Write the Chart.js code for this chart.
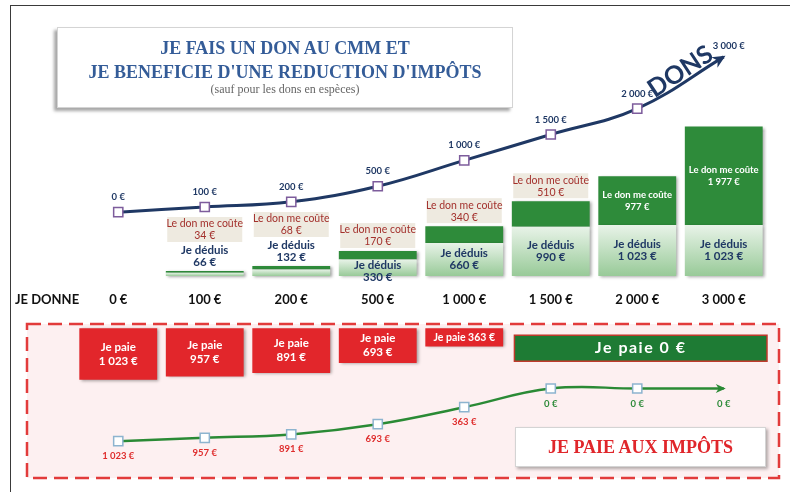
<!DOCTYPE html>
<html lang="fr">
<head>
<meta charset="utf-8">
<script src="https://cdn.jsdelivr.net/npm/chart.js@4"></script>
<style>
  html, body { margin: 0; padding: 0; background: #fff; }
  #wrap { position: relative; width: 790px; height: 492px; overflow: hidden; font-family: Lato, sans-serif; }
  #frame { position: absolute; left: 10px; top: 5px; width: 820px; height: 520px; border-top: 1.5px solid #3a3a3a; border-left: 1.5px solid #3a3a3a; z-index: 0; }
  canvas { position: absolute; left: 0; top: 0; z-index: 1; }
  .box { position: absolute; background: #fff; border: 1px solid #d4d4d4; z-index: 2; }
  #title { left: 57px; top: 27px; width: 454px; height: 79px; box-shadow: -3px 3px 3px rgba(0,0,0,.35); color: #345c98; font-family: "Liberation Serif", "Times New Roman", serif; }
  #title div { position: absolute; left: 0; width: 100%; text-align: center; line-height: 1; white-space: nowrap; }
  #t1, #t2 { font-size: 18px; font-weight: bold; }
  #t1 { top: 11px; } #t2 { top: 35px; }
  #t3 { top: 55px; font-size: 12px; color: #666; }
  #impots { left: 515px; top: 427px; width: 249px; height: 38px; box-shadow: 2px 2px 3px rgba(0,0,0,.3); display: flex; align-items: center; justify-content: center; color: #e0262b; font-family: "Liberation Serif", "Times New Roman", serif; font-weight: bold; font-size: 18px; }
</style>
</head>
<body>
<div id="wrap">
  <div id="frame"></div>
  <canvas id="c" width="790" height="492"></canvas>
  <div id="title" class="box">
    <div id="t1">JE FAIS UN DON AU CMM ET</div>
    <div id="t2">JE BENEFICIE D'UNE REDUCTION D'IMPÔTS</div>
    <div id="t3">(sauf pour les dons en espèces)</div>
  </div>
  <div id="impots" class="box">JE PAIE AUX IMPÔTS</div>
</div>
<script>
// ---- data ----
const categories = ['0 €', '100 €', '200 €', '500 €', '1 000 €', '1 500 €', '2 000 €', '3 000 €'];
const donations  = [0, 100, 200, 500, 1000, 1500, 2000, 3000];
const deductions = [0, 66, 132, 330, 660, 990, 1023, 1023];
const costs      = [0, 34, 68, 170, 340, 510, 977, 1977];
const taxPaid    = [1023, 957, 891, 693, 363, 0, 0, 0];
const rowTitle   = 'JE DONNE';
const arrowWord  = 'DONS';

const fmt = v => String(v).replace(/\B(?=(\d{3})+(?!\d))/g, ' ') + ' €';
const NAVY = '#1f3864';

function txt(c, s, x, y, font, color, align) {
  c.font = font; c.fillStyle = color; c.textAlign = align || 'center'; c.textBaseline = 'middle';
  c.fillText(s, x, y);
}
const F = (w, s) => w + ' ' + s + 'px Lato, sans-serif';

const deco = {
  id: 'deco',
  beforeDatasetsDraw(chart) {
    const c = chart.ctx;
    c.save();
    c.fillStyle = '#fdf0f1';
    c.fillRect(27, 324, 752, 154);
    c.setLineDash([14, 7]);
    c.lineWidth = 2.5;
    c.strokeStyle = '#e23b3b';
    c.strokeRect(27, 324, 752, 154);
    c.restore();
  },
  beforeDatasetDraw(chart, args) {
    if (args.meta.type === 'bar') {
      const c = chart.ctx; c.save();
      c.shadowColor = 'rgba(0,0,0,0.35)'; c.shadowBlur = 3; c.shadowOffsetX = 2; c.shadowOffsetY = 1;
    }
  },
  afterDatasetDraw(chart, args) {
    if (args.meta.type === 'bar') chart.ctx.restore();
  },
  afterDatasetsDraw(chart) {
    const c = chart.ctx;
    const xs = chart.scales.x, yD = chart.scales.yDon, yB = chart.scales.yBar, yP = chart.scales.yPay, yT = chart.scales.yTax;
    const slot = xs.getPixelForValue(1) - xs.getPixelForValue(0);
    c.save();

    // JE DONNE row
    txt(c, rowTitle, 15, 300, F('bold', 13), '#111', 'left');
    categories.forEach((s, i) => txt(c, s, xs.getPixelForValue(i), 300, F('bold', 13), '#111'));

    // donation line labels
    donations.forEach((v, i) => {
      const last = i === donations.length - 1;
      const x = xs.getPixelForValue(i) + (last ? 5 : 0);
      const y = yD.getPixelForValue(v) - (last ? 11 : 15);
      txt(c, categories[i], x, y, F('bold', 9.5), NAVY);
    });

    // stacked bar labels
    deductions.forEach((d, i) => {
      if (d + costs[i] <= 0) return;
      const cx = xs.getPixelForValue(i);
      const base = yB.getPixelForValue(0), mid = yB.getPixelForValue(d), top = yB.getPixelForValue(d + costs[i]);
      const dh = base - mid, ch = mid - top;
      let dedTop;
      if (dh > 12) {
        const y1 = Math.max((base + mid) / 2 - 6, mid + 6);
        txt(c, 'Je déduis', cx, y1, F('bold', 11.5), NAVY);
        txt(c, fmt(d), cx, y1 + 12, F('bold', 11.5), NAVY);
        dedTop = mid;
      } else {
        const y1 = top - 21;
        txt(c, 'Je déduis', cx, y1, F('bold', 11.5), NAVY);
        txt(c, fmt(d), cx, y1 + 12, F('bold', 11.5), NAVY);
        dedTop = y1 - 5;
      }
      if (ch > 40) {
        const cm = (mid + top) / 2;
        txt(c, 'Le don me coûte', cx, cm - 6, F('bold', 9.5), '#fff');
        txt(c, fmt(costs[i]), cx, cm + 6, F('bold', 9.5), '#fff');
      } else {
        const bb = Math.min(top, dedTop) - 3;
        c.fillStyle = '#eeeae0';
        c.fillRect(cx - 37.5, bb - 25, 75, 25);
        txt(c, 'Le don me coûte', cx, bb - 18, F('normal', 10.5), '#a3302c');
        txt(c, fmt(costs[i]), cx, bb - 6, F('normal', 10.5), '#a3302c');
      }
    });

    // tax paid bars labels
    const p0 = yP.getPixelForValue(0);
    taxPaid.forEach((t, i) => {
      if (t <= 0) return;
      const cx = xs.getPixelForValue(i);
      const p1 = yP.getPixelForValue(t);
      const cy = (p0 + p1) / 2;
      if (p1 - p0 >= 30) {
        txt(c, 'Je paie', cx, cy - 7, F('bold', 11.5), '#fff');
        txt(c, fmt(t), cx, cy + 7, F('bold', 11.5), '#fff');
      } else {
        txt(c, 'Je paie ' + fmt(t), cx, cy, F('bold', 10.5), '#fff');
      }
    });

    // zero-tax banner
    const first = taxPaid.indexOf(0);
    if (first >= 0) {
      const l = xs.getPixelForValue(first) - slot * 0.42;
      const r = xs.getPixelForValue(taxPaid.length - 1) + slot * 0.5;
      const t = p0 + 7, b = p0 + 33;
      c.fillStyle = '#1e7b34';
      c.fillRect(l, t, r - l, b - t);
      c.lineWidth = 1.5; c.strokeStyle = '#c0392b';
      c.strokeRect(l, t, r - l, b - t);
      c.letterSpacing = '1.5px';
      txt(c, 'Je paie ' + fmt(0), (l + r) / 2, (t + b) / 2, F('bold', 16), '#fff');
      c.letterSpacing = '0px';
    }

    // tax line labels
    taxPaid.forEach((t, i) => {
      const x = xs.getPixelForValue(i), y = yT.getPixelForValue(t) + 15;
      txt(c, fmt(t), x, y, F('bold', 9.5), t > 0 ? '#df2c2c' : '#2e8b3a');
    });

    // arrow heads
    [[3, NAVY, 13, 6], [4, '#2a8a35', 10, 4.5]].forEach(([di, col, len, hw]) => {
      const pts = chart.getDatasetMeta(di).data;
      const p = pts[pts.length - 1], q = pts[pts.length - 2];
      let dx = p.x - p.cp1x, dy = p.y - p.cp1y;
      if (!isFinite(dx) || !isFinite(dy) || (dx === 0 && dy === 0)) { dx = p.x - q.x; dy = p.y - q.y; }
      const L = Math.hypot(dx, dy), ux = dx / L, uy = dy / L;
      const tx = p.x + ux * 2, ty = p.y + uy * 2;
      c.beginPath();
      c.moveTo(tx, ty);
      c.lineTo(tx - ux * len - uy * hw, ty - uy * len + ux * hw);
      c.lineTo(tx - ux * len * 0.7, ty - uy * len * 0.7);
      c.lineTo(tx - ux * len + uy * hw, ty - uy * len - ux * hw);
      c.closePath();
      c.fillStyle = col; c.fill();
    });

    // DONS word along the last segment
    const dp = chart.getDatasetMeta(3).data;
    const a = dp[dp.length - 2], b = dp[dp.length - 1];
    const P = [[a.x, a.y], [a.cp2x, a.cp2y], [b.cp1x, b.cp1y], [b.x, b.y]];
    const tt = 0.57, mt = 1 - tt;
    const bx = mt*mt*mt*P[0][0] + 3*mt*mt*tt*P[1][0] + 3*mt*tt*tt*P[2][0] + tt*tt*tt*P[3][0];
    const by = mt*mt*mt*P[0][1] + 3*mt*mt*tt*P[1][1] + 3*mt*tt*tt*P[2][1] + tt*tt*tt*P[3][1];
    const ddx = 3*mt*mt*(P[1][0]-P[0][0]) + 6*mt*tt*(P[2][0]-P[1][0]) + 3*tt*tt*(P[3][0]-P[2][0]);
    const ddy = 3*mt*mt*(P[1][1]-P[0][1]) + 6*mt*tt*(P[2][1]-P[1][1]) + 3*tt*tt*(P[3][1]-P[2][1]);
    c.translate(bx, by);
    c.rotate(Math.atan2(ddy, ddx));
    c.font = F('bold', 25); c.fillStyle = NAVY; c.textAlign = 'center'; c.textBaseline = 'alphabetic';
    c.fillText(arrowWord, 0, -3);
    c.restore();
  }
};

function dedGradient(ctx) {
  const chart = ctx.chart;
  if (!chart.chartArea || ctx.type !== 'data') return '#c8e4c8';
  const y = chart.scales.yBar;
  const top = y.getPixelForValue(ctx.raw), base = y.getPixelForValue(0);
  if (!(base - top > 0.5)) return '#a8d4a8';
  const g = chart.ctx.createLinearGradient(0, top, 0, base);
  g.addColorStop(0, '#e8f3e8');
  g.addColorStop(1, '#98ca98');
  return g;
}

new Chart(document.getElementById('c'), {
  type: 'bar',
  data: {
    labels: categories,
    datasets: [
      { type: 'bar', label: 'Je déduis', data: deductions, yAxisID: 'yBar', stack: 'col', order: 1,
        backgroundColor: dedGradient, barPercentage: 0.9, categoryPercentage: 1 },
      { type: 'bar', label: 'Le don me coûte', data: costs, yAxisID: 'yBar', stack: 'col', order: 1,
        backgroundColor: '#2e8b3a', barPercentage: 0.9, categoryPercentage: 1 },
      { type: 'bar', label: 'Je paie', data: taxPaid, yAxisID: 'yPay', stack: 'col', order: 1,
        backgroundColor: '#e2262b', barPercentage: 0.9, categoryPercentage: 1 },
      { type: 'line', label: 'Dons', data: donations, yAxisID: 'yDon', order: 0,
        borderColor: NAVY, borderWidth: 3, tension: 0.4, fill: false, clip: false,
        pointStyle: 'rect', pointRadius: ctx => ctx.dataIndex === donations.length - 1 ? 0 : 6.5,
        pointBackgroundColor: '#fff', pointBorderColor: '#7d5c9c', pointBorderWidth: 1.5 },
      { type: 'line', label: 'Impôts', data: taxPaid, yAxisID: 'yTax', order: 0,
        borderColor: '#2a8a35', borderWidth: 2.5, tension: 0.4, fill: false, clip: false,
        pointStyle: 'rect', pointRadius: ctx => ctx.dataIndex === taxPaid.length - 1 ? 0 : 6.5,
        pointBackgroundColor: '#fff', pointBorderColor: '#8db4cf', pointBorderWidth: 1.5 }
    ]
  },
  options: {
    responsive: false,
    animation: false,
    devicePixelRatio: 1,
    layout: { padding: { left: 75, right: 23, top: 0, bottom: 0 } },
    plugins: { legend: { display: false }, tooltip: { enabled: false } },
    scales: {
      x: { type: 'category', display: false, offset: true },
      yDon: { display: false, min: -5252, max: 3944 },
      yBar: { display: false, stacked: true, min: -4175, max: 5379 },
      yPay: { display: false, reverse: true, min: -6365, max: 3096 },
      yTax: { display: false, reverse: true, min: -7393, max: 1855 }
    }
  },
  plugins: [deco]
});
</script>
</body>
</html>
